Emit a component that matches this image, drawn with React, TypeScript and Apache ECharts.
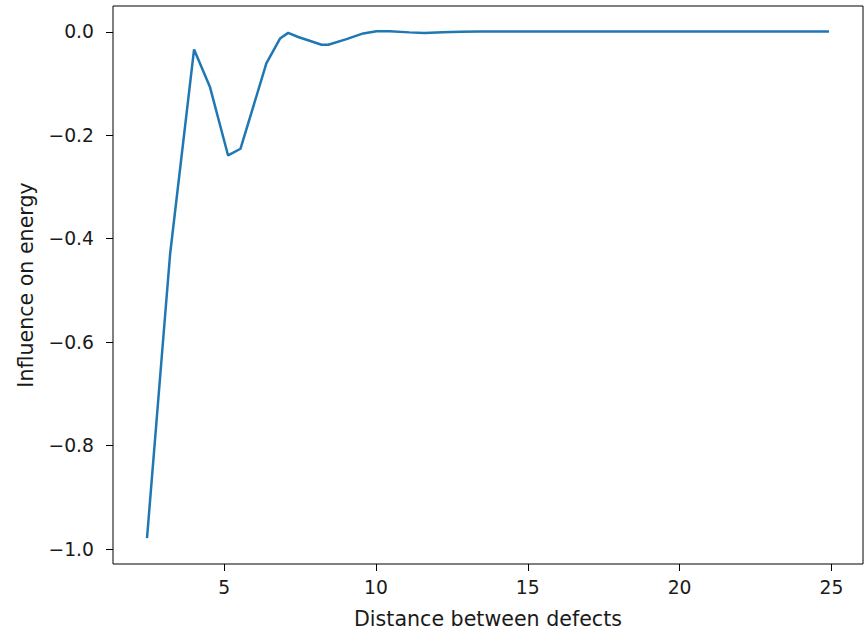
import React, { useEffect, useRef } from "react";
import * as echarts from "echarts";

const distances = [
  2.46, 3.22, 4.01, 4.53, 5.13, 5.54, 6.39, 6.84, 7.11, 7.44, 8.21, 8.43, 9.03, 9.58,
  10.02, 10.45, 11.1, 11.6, 12.2, 12.8, 13.4, 14.0, 15.0, 16.0, 17.0, 18.0, 19.0,
  20.0, 21.0, 22.0, 23.0, 24.0, 24.92,
];
const influence = [
  -0.979, -0.43, -0.034, -0.106, -0.239, -0.226, -0.061, -0.013, -0.002, -0.01,
  -0.025, -0.025, -0.014, -0.003, 0.001, 0.001, -0.001, -0.002, -0.001, 0.0,
  0.0005, 0.0005, 0.0005, 0.0005, 0.0005, 0.0005, 0.0005, 0.0005, 0.0005, 0.0005,
  0.0005, 0.0005, 0.0005,
];
const xTicks = [5, 10, 15, 20, 25];
const yTicks = [-1.0, -0.8, -0.6, -0.4, -0.2, 0.0];
const xTitle = "Distance between defects";
const yTitle = "Influence on energy";

export default function App() {
  const ref = useRef<HTMLDivElement>(null);
  useEffect(() => {
    if (!ref.current) return;
    const chart = echarts.init(ref.current, undefined, { renderer: "svg" });
    const font = "DejaVu Sans";
    const textColor = "#1a1a1a";
    chart.setOption({
      animation: false,
      grid: {
        left: 113,
        right: 2,
        top: 6,
        bottom: 66,
        containLabel: false,
        outerBoundsMode: "none",
        show: true,
        borderColor: "#000",
        borderWidth: 1,
        backgroundColor: "#fff",
      },
      xAxis: {
        type: "value",
        min: 1.34,
        max: 26.04,
        name: xTitle,
        nameLocation: "middle",
        nameGap: 44,
        nameTextStyle: { fontFamily: font, fontSize: 20.6, color: textColor },
        axisLine: { show: false, onZero: false },
        splitLine: { show: false },
        axisTick: {
          show: true,
          length: 7,
          customValues: xTicks,
          lineStyle: { color: "#000", width: 1 },
        },
        axisLabel: {
          customValues: xTicks,
          margin: 14,
          fontFamily: font,
          fontSize: 18.75,
          color: textColor,
          formatter: (v: number) => String(Math.round(v)),
        },
      },
      yAxis: {
        type: "value",
        min: -1.029,
        max: 0.05,
        name: yTitle,
        nameLocation: "middle",
        nameGap: 77,
        nameTextStyle: { fontFamily: font, fontSize: 20.6, color: textColor },
        axisLine: { show: false, onZero: false },
        splitLine: { show: false },
        axisTick: {
          show: true,
          length: 7,
          customValues: yTicks,
          lineStyle: { color: "#000", width: 1 },
        },
        axisLabel: {
          customValues: yTicks,
          margin: 19,
          fontFamily: font,
          fontSize: 18.75,
          color: textColor,
          formatter: (v: number) =>
            Math.abs(v) < 1e-9 ? "0.0" : (v < 0 ? "\u2212" : "") + Math.abs(v).toFixed(1),
        },
      },
      series: [
        {
          type: "line",
          data: distances.map((d, i) => [d, influence[i]]),
          symbol: "none",
          showSymbol: false,
          lineStyle: { color: "#1f77b4", width: 2.5 },
          itemStyle: { color: "#1f77b4" },
        },
      ],
    });
    return () => chart.dispose();
  }, []);
  return (
    <div
      ref={ref}
      style={{ position: "absolute", left: 0, top: 0, width: 865, height: 630, background: "#fff" }}
    />
  );
}
